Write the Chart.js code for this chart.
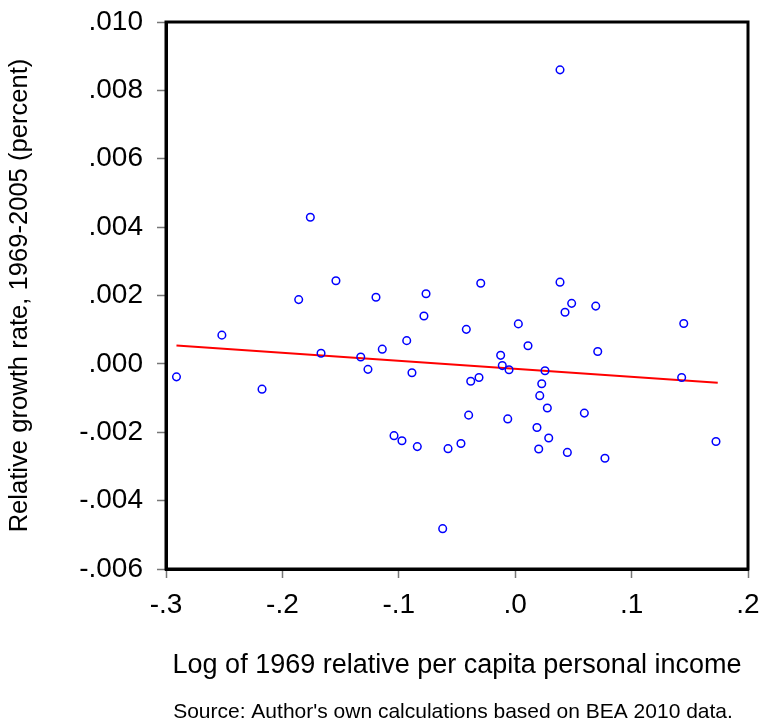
<!DOCTYPE html>
<html>
<head>
<meta charset="utf-8">
<script src="https://cdn.jsdelivr.net/npm/chart.js@4"></script>
<style>
  html, body { margin: 0; padding: 0; background: #fff; }
  #wrap { width: 761px; height: 723px; }
</style>
</head>
<body>
<div id="wrap"><canvas id="scatterCanvas" width="761" height="723"></canvas></div>
<script>
// log of 1969 relative per capita income
let incomeX = [
  -0.291, -0.252, -0.2175, -0.186, -0.176, -0.1668, -0.154, -0.1327, -0.1265, -0.1196,
  -0.1142, -0.1041, -0.0973, -0.0932, -0.0887, -0.0841, -0.0784, -0.0766, -0.0623, -0.0577,
  -0.0466, -0.042, -0.040, -0.0382, -0.0311, -0.0296, -0.0125, -0.0111, -0.0064, -0.0053,
  0.0027, 0.011, 0.0187, 0.0202, 0.0211, 0.0228, 0.0256, 0.0276, 0.0288, 0.0385,
  0.0385, 0.0428, 0.0448, 0.0485, 0.0594, 0.0692, 0.0709, 0.0771, 0.143, 0.1448,
  0.1725,
];
// relative growth rate 1969-2005
let growthY = [
  -0.00038, 0.00084, -0.00074, 0.00188, 0.00429, 0.00031, 0.00243, 0.0002, -0.00016, 0.00195,
  0.00043, -0.0021, -0.00225, 0.00068, -0.00026, -0.00242, 0.0014, 0.00205, -0.00482, -0.00248,
  -0.00233, 0.00101, -0.0015, -0.00051, -0.0004, 0.00236, 0.00025, -0.00005, -0.00161, -0.00017,
  0.00117, 0.00053, -0.00186, -0.00249, -0.00093, -0.00058, -0.0002, -0.00129, -0.00217, 0.0086,
  0.00239, 0.00151, -0.00259, 0.00177, -0.00144, 0.00169, 0.00036, -0.00276, -0.0004, 0.00118,
  -0.00227,
];
// fitted line ends
let fitX = [-0.291, 0.174];
let fitY = [0.000535, -0.000555];

let xTicks = { min: -0.3, max: 0.2, step: 0.1 };
let yTicks = { min: -0.006, max: 0.010, step: 0.002 };

const ctx = document.querySelector("#scatterCanvas");

Chart.defaults.font.family = "'Liberation Sans', Arial, sans-serif";
Chart.defaults.color = "#000";

function dropZero(v, digits) {
  return Number(v).toFixed(digits).replace("0.", ".");
}

const frameAndSource = {
  id: "frameAndSource",
  afterDraw(chart) {
    const c = chart.ctx;
    const a = chart.chartArea;
    c.save();
    c.strokeStyle = "#000";
    c.lineWidth = 3;
    c.strokeRect(a.left, a.top, a.right - a.left, a.bottom - a.top);
    c.font = "21px 'Liberation Sans', Arial, sans-serif";
    c.fillStyle = "#000";
    c.textAlign = "center";
    c.textBaseline = "alphabetic";
    c.fillText("Source: Author's own calculations based on BEA 2010 data.", 453, 718);
    c.restore();
  },
};

function makeChart() {
  let points = incomeX.map((x, i) => ({ x: x, y: growthY[i] }));
  let fit = fitX.map((x, i) => ({ x: x, y: fitY[i] }));

  new Chart(ctx, {
    type: "scatter",
    data: {
      datasets: [
        {
          label: "States",
          data: points,
          pointStyle: "circle",
          pointRadius: 3.8,
          pointBorderWidth: 1.5,
          borderColor: "#0000ff",
          backgroundColor: "rgba(0,0,0,0)",
          order: 1,
        },
        {
          type: "line",
          label: "Fit",
          data: fit,
          borderColor: "#ff0000",
          borderWidth: 2,
          pointRadius: 0,
          fill: false,
          order: 2,
        },
      ],
    },
    options: {
      responsive: false,
      animation: false,
      events: [],
      layout: { padding: { top: 22, right: 13, left: 0, bottom: 0 } },
      plugins: { legend: { display: false }, tooltip: { enabled: false } },
      scales: {
        x: {
          type: "linear",
          min: xTicks.min,
          max: xTicks.max,
          afterFit(scale) {
            scale.height = 154;
            scale.paddingLeft = 0;
            scale.paddingRight = 0;
          },
          ticks: {
            stepSize: xTicks.step,
            font: { size: 28 },
            padding: 10,
            callback: (v) => dropZero(v, 1),
          },
          grid: { drawOnChartArea: false, tickLength: 9, tickColor: "#777", tickWidth: 1.5 },
          border: { color: "#000", width: 3 },
          title: {
            display: true,
            text: "Log of 1969 relative per capita personal income",
            font: { size: 27 },
            padding: { bottom: 41 },
          },
        },
        y: {
          type: "linear",
          min: yTicks.min,
          max: yTicks.max,
          afterFit(scale) {
            scale.width = 166;
            scale.paddingTop = 0;
            scale.paddingBottom = 0;
          },
          ticks: {
            stepSize: yTicks.step,
            font: { size: 28 },
            padding: 14,
            callback: (v) => dropZero(v, 3),
          },
          grid: { drawOnChartArea: false, tickLength: 9, tickColor: "#777", tickWidth: 1.5 },
          border: { color: "#000", width: 3 },
          title: {
            display: true,
            text: "Relative growth rate, 1969-2005 (percent)",
            font: { size: 25.6 },
            padding: { top: 5 },
          },
        },
      },
    },
    plugins: [frameAndSource],
  });
}

makeChart();
</script>
</body>
</html>
